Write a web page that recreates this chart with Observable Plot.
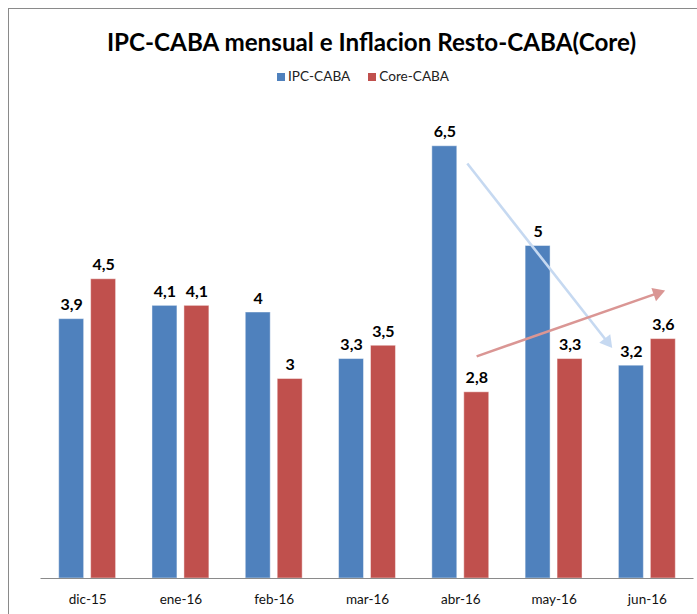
<!DOCTYPE html>
<html>
<head>
<meta charset="utf-8">
<script src="https://cdn.jsdelivr.net/npm/d3@7"></script>
<script src="https://cdn.jsdelivr.net/npm/@observablehq/plot@0.6"></script>
<style>
  html, body { margin: 0; padding: 0; background: #fff; overflow: hidden; }
  body { width: 697px; height: 614px; position: relative; font-family: Lato, "Open Sans", sans-serif; }
  #frame { position: absolute; left: 8px; top: 8px; width: 760px; height: 700px; border: 1px solid #8a8a8a; box-sizing: border-box; }
  #title { position: absolute; left: 0; width: 743px; top: 27px; text-align: center; font-weight: bold; font-size: 24.2px; color: #000; }
  #legend { position: absolute; left: 0; width: 726px; top: 68px; text-align: center; font-size: 13.6px; color: #222; }
  #legend span.sw { display: inline-block; width: 8px; height: 8px; margin-right: 3px; vertical-align: 0px; }
  #legend span.item { margin: 0 9px; }
  #chart { position: absolute; left: 0; top: 100px; }
</style>
</head>
<body>
<div id="frame"></div>
<div id="title">IPC-CABA mensual e Inflacion Resto-CABA(Core)</div>
<div id="legend"></div>
<div id="chart"></div>
<script>
const months = ["dic-15", "ene-16", "feb-16", "mar-16", "abr-16", "may-16", "jun-16"];
const seriesNames = ["IPC-CABA", "Core-CABA"];
const ipc = [3.9, 4.1, 4.0, 3.3, 6.5, 5.0, 3.2];
const core = [4.5, 4.1, 3.0, 3.5, 2.8, 3.3, 3.6];
const colors = ["#4F81BD", "#C0504D"];
// annotation arrows, in (month index, value) units
const arrows = [
  {x1: 4.07, y1: 6.24, x2: 5.61, y2: 3.49, color: "#C6D9F1"},
  {x1: 4.17, y1: 3.34, x2: 6.17, y2: 4.32, color: "#DA9694"}
];

const rows = [];
months.forEach((m, i) => {
  rows.push({i, month: m, series: seriesNames[0], value: ipc[i], x1: i - 0.305, x2: i - 0.0375});
  rows.push({i, month: m, series: seriesNames[1], value: core[i], x1: i + 0.0375, x2: i + 0.305});
});

const fmt = v => String(v).replace(".", ",");

const legend = document.getElementById("legend");
legend.innerHTML = seriesNames.map((s, k) =>
  `<span class="item"><span class="sw" style="background:${colors[k]}"></span>${s}</span>`).join("");

const baseOpts = {
  width: 697,
  height: 514,
  marginLeft: 40.5,
  marginRight: 3.5,
  marginTop: 12.5,
  marginBottom: 36,
  style: {fontFamily: "Lato, 'Open Sans', sans-serif", background: "transparent"},
  x: {type: "linear", domain: [-0.5, 6.5], axis: null},
  y: {domain: [0, 7], axis: null},
  color: {domain: seriesNames, range: colors}
};

// first pass to obtain the scales, used to orient the arrowheads
const probe = Plot.plot({...baseOpts, marks: [Plot.dot(arrows, {x: "x1", y: "y1"})]});
const sx = probe.scale("x"), sy = probe.scale("y");
const headLen = 11;
const heads = arrows.map(a => {
  const px1 = sx.apply(a.x1), py1 = sy.apply(a.y1);
  const px2 = sx.apply(a.x2), py2 = sy.apply(a.y2);
  const ang = Math.atan2(py2 - py1, px2 - px1);
  const L = Math.hypot(px2 - px1, py2 - py1);
  const back = headLen * 0.55; // triangle centroid behind tip
  const cx = px2 - Math.cos(ang) * back, cy = py2 - Math.sin(ang) * back;
  const lx = px2 - Math.cos(ang) * headLen * 0.8, ly = py2 - Math.sin(ang) * headLen * 0.8;
  return {
    color: a.color,
    x: sx.invert(cx), y: sy.invert(cy),
    lx: sx.invert(lx), ly: sy.invert(ly),
    x1: a.x1, y1: a.y1,
    rotate: ang * 180 / Math.PI + 90
  };
});

const plot = Plot.plot({
  ...baseOpts,
  marks: [
    Plot.rectY(rows, {x1: "x1", x2: "x2", y: "value", fill: "series", stroke: "#ffffff", strokeOpacity: 0.45, strokeWidth: 1}),
    Plot.ruleY([0], {stroke: "#8a8a8a", strokeWidth: 1}),
    Plot.text(rows, {x: d => (d.x1 + d.x2) / 2, y: "value", text: d => fmt(d.value), dy: -9, lineAnchor: "bottom", fontWeight: "bold", fontSize: 16, fill: "#000"}),
    Plot.text(months, {x: (d, i) => i, y: 0, text: d => d, dy: 21, fontSize: 13.5, fill: "#111"}),
    Plot.link(heads, {x1: "x1", y1: "y1", x2: "lx", y2: "ly", stroke: "color", strokeWidth: 2.6}),
    Plot.dot(heads, {x: "x", y: "y", symbol: "triangle", r: 5.2, rotate: "rotate", fill: "color", stroke: "none"})
  ]
});
document.getElementById("chart").appendChild(plot);
</script>
</body>
</html>
